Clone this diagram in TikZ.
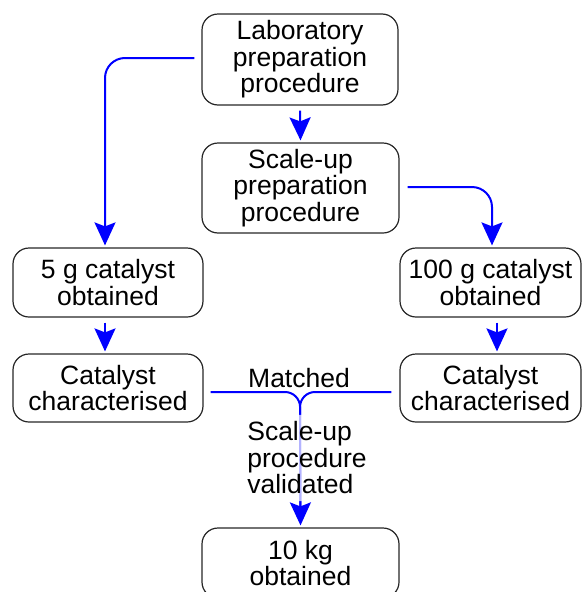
\documentclass[tikz,border=0pt]{standalone}
\usepackage{fontspec}
\setmainfont{Liberation Sans}
\usetikzlibrary{arrows.meta}
\begin{document}
\begin{tikzpicture}[x=1pt,y=-1pt,
  box/.style={draw=black!85, line width=1.2pt, rounded corners=16pt, align=center, inner sep=0pt, font=\fontsize{26.5}{26.5}\selectfont},
  blu/.style={draw=blue, line width=2pt},
  arr/.style={blu, -{Stealth[length=23pt,width=21pt,inset=4pt]}},
  lbl/.style={align=center, inner sep=0pt, font=\fontsize{26.5}{26.5}\selectfont}
]
\useasboundingbox (0,0) rectangle (582,592);
\node[box, minimum width=196pt, minimum height=91pt] (lab) at (300,59.5) {Laboratory\\preparation\\procedure};
\node[box, minimum width=197pt, minimum height=90pt] (scale) at (300.5,188) {Scale-up\\preparation\\procedure};
\node[box, minimum width=190pt, minimum height=69pt] (five) at (108,282.5) {5 g catalyst\\obtained};
\node[box, minimum width=181pt, minimum height=69pt] (hund) at (490.5,282.5) {100 g catalyst\\obtained};
\node[box, minimum width=190pt, minimum height=68pt] (cl) at (108,388) {Catalyst\\characterised};
\node[box, minimum width=181pt, minimum height=68pt] (cr) at (490.5,388) {Catalyst\\characterised};
\node[box, minimum width=197pt, minimum height=70pt] (kg) at (300.5,563) {10 kg\\obtained};

\draw[arr, rounded corners=20pt] ([xshift=-7pt,yshift=1.5pt]lab.west) -| ([xshift=-3pt,yshift=2pt]five.north);
\draw[arr] ([yshift=-5pt]lab.south) -- ([yshift=2pt]scale.north);
\draw[arr, rounded corners=20pt] ([xshift=8pt,yshift=1pt]scale.east) -| ([xshift=1.5pt,yshift=2pt]hund.north);
\draw[arr] ([xshift=-3pt,yshift=-5pt]five.south) -- ([xshift=-3pt,yshift=2pt]cl.north);
\draw[arr] ([xshift=6.5pt,yshift=-5pt]hund.south) -- ([xshift=6.5pt,yshift=2pt]cr.north);

\coordinate (m) at (300,392);
\draw[blu, rounded corners=15pt] ([xshift=7pt]cl.east |- m) -- (m) -- ([yshift=12pt]kg.north);
\draw[arr, rounded corners=15pt] ([xshift=-8pt]cr.west |- m) -- (m) -- ([yshift=2pt]kg.north);

\node[lbl] (matched) at (299,378) {Matched};
\node[lbl, align=left, fill=white, fill opacity=0.7, text opacity=1, rounded corners=12pt, inner sep=7pt] (valid) at (307,458) {Scale-up\\procedure\\validated};
\end{tikzpicture}
\end{document}
